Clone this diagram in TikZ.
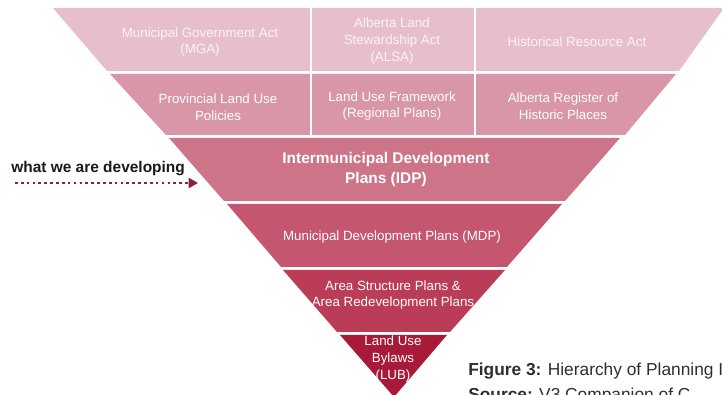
\documentclass[tikz,border=0pt]{standalone}
\usepackage{fontspec}
\setmainfont{Liberation Sans}
\usetikzlibrary{arrows.meta}
\definecolor{actpink}{HTML}{E7BFCB}
\definecolor{policypink}{HTML}{D996A8}
\definecolor{idppink}{HTML}{CE7489}
\definecolor{mdpred}{HTML}{C5566F}
\definecolor{aspred}{HTML}{BB3C57}
\definecolor{lubred}{HTML}{A91A38}
\definecolor{arrowred}{HTML}{8C1D45}
\definecolor{captiongray}{HTML}{2E2E2E}
\begin{document}
\begin{tikzpicture}[x=0.75pt,y=-0.75pt,
  bandtext/.style={align=center,inner sep=0pt,text=white,font=\fontsize{10}{12.5}\selectfont},
  paletext/.style={bandtext,text=white!82!actpink}]
	\useasboundingbox (0,0) rectangle (722,395);
	\clip (0,0) rectangle (722,395);
	% the bands, top to bottom
	\fill[actpink] (53,8) -- (724,8) -- (679,71) -- (107,71) -- cycle;
	\fill[policypink] (110,74) -- (676,74) -- (625,135) -- (166,135) -- cycle;
	\fill[idppink] (169,138) -- (620,138) -- (565,201) -- (224,201) -- cycle;
	\fill[mdpred] (227,204) -- (562,204) -- (507,267) -- (281,267) -- cycle;
	\fill[aspred] (283,270) -- (505,270) -- (450,332) -- (337,332) -- cycle;
	\fill[lubred] (340,335) -- (447,335) -- (394,397) -- cycle;
	% column splits of the two upper bands
	\draw[white,line width=2.2pt] (311,6) -- (311,136);
	\draw[white,line width=2.2pt] (475,6) -- (475,136);
	\node[paletext] (mga) at (200,42) {Municipal Government Act\\(MGA)};
	\node[paletext] (alsa) at (392,41) {Alberta Land\\Stewardship Act\\(ALSA)};
	\node[paletext] (hra) at (577,42) {Historical Resource Act};
	\node[bandtext] (plup) at (218,107) {Provincial Land Use\\Policies};
	\node[bandtext] (luf) at (392,106) {Land Use Framework\\(Regional Plans)};
	\node[bandtext] (arhp) at (563,106) {Alberta Register of\\Historic Places};
	\node[bandtext,font=\bfseries\fontsize{11.6}{15}\selectfont] (idp) at (386,170) {Intermunicipal Development\\Plans (IDP)};
	\node[bandtext] (mdp) at (392,237) {Municipal Development Plans (MDP)};
	\node[bandtext] (asp) at (393,295) {Area Structure Plans \&\\Area Redevelopment Plans};
	\node[bandtext] (lub) at (393,359) {Land Use\\Bylaws\\(LUB)};
	% label and dotted pointer on the left
	\node[anchor=base west,inner sep=0pt,text=black!90,font=\bfseries\fontsize{11.6}{14}\selectfont] (dev) at (11,173) {what we are developing};
	\coordinate (devfrom) at (15,183);
	\coordinate (devto) at (198,183);
	\draw[arrowred,line width=2.1pt,dash pattern=on 2pt off 2.4pt,-{Triangle[length=7pt,width=7.5pt]}] (devfrom) -- (devto);
	% caption
	\node[anchor=base west,inner sep=0pt,text=captiongray,font=\fontsize{13}{16}\selectfont] (fig) at (468,376) {\textbf{Figure 3:} Hierarchy of Planning I};
	\node[anchor=base west,inner sep=0pt,text=captiongray,font=\fontsize{13}{16}\selectfont] (src) at (468,401) {\textbf{Source:} V3 Companion of C};
\end{tikzpicture}
\end{document}
